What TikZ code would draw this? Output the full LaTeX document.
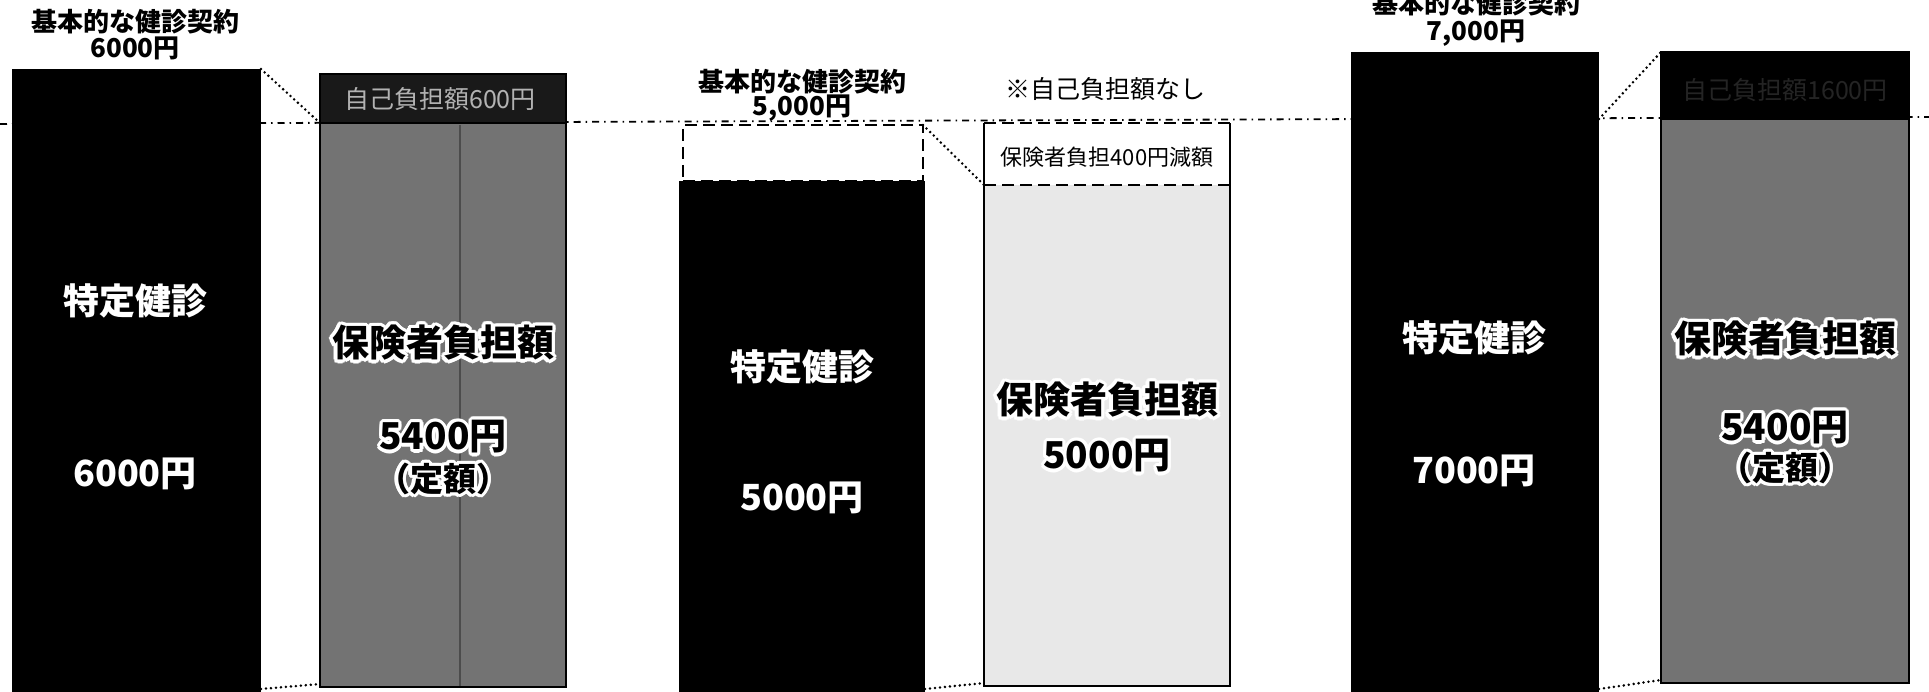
\documentclass[tikz,border=0pt]{standalone}
\usepackage{fontspec}
\setmainfont{Noto Sans CJK JP}
\newfontfamily\jp{Noto Sans CJK JP}
\newcommand\halonode[4]{%
 \foreach \hx/\hy in {3.2/0,-3.2/0,0/3.2,0/-3.2,2.3/2.3,-2.3/2.3,2.3/-2.3,-2.3/-2.3,3/1.2,-3/1.2,3/-1.2,-3/-1.2,1.2/3,-1.2/3,1.2/-3,-1.2/-3}
   {\node[#2, text=white, xshift=\hx pt, yshift=\hy pt] at (#3) {#4};}%
 \node[#2] (#1) at (#3) {#4};}
\tikzset{
  bar/.style={rectangle, inner sep=0pt, outer sep=0pt},
  blackbar/.style={bar, fill=black},
  greybar/.style={bar, fill=black!55, draw=black, line width=1.5pt},
  dotconn/.style={line width=2.8pt, dash pattern=on 0pt off 5pt, line cap=round},
  guide/.style={line width=1.8pt, dash pattern=on 7pt off 5pt on 1.5pt off 5pt},
  dashline/.style={line width=2.2pt, dash pattern=on 12pt off 6pt},
  frameline/.style={line width=1.5pt},
  titletext/.style={font=\jp\bfseries\fontsize{26}{30}\selectfont, inner sep=0pt},
  bartext/.style={text=white, font=\jp\bfseries\fontsize{36}{40}\selectfont, inner sep=0pt},
  halotext/.style={font=\jp\bfseries\fontsize{37}{40}\selectfont, inner sep=0pt},
  parentext/.style={font=\jp\bfseries\fontsize{33}{36}\selectfont, inner sep=0pt},
  notetext/.style={font=\jp\fontsize{25}{28}\selectfont, inner sep=0pt},
}
\begin{document}
\begin{tikzpicture}[x=1pt,y=-1pt]
\useasboundingbox (0,0) rectangle (1929,692);
\fill[white] (0,0) rectangle (1929,692);
% guide line
\coordinate (gl) at (0,124);
\coordinate (gr) at (1929,117);
\draw[guide] (gl) -- (gr);

% ---------- Panel 1 ----------
\node[titletext] (t1a) at (135,22) {基本的な健診契約};
\node[titletext] (t1b) at (135,48) {6000円};
\node[blackbar, minimum width=249pt, minimum height=623pt] (b1) at (136.5,380.5) {};
\node[bartext] (b1t) at (135,301) {特定健診};
\node[bartext] (b1n) at (135,474) {6000円};
\node[bar, fill=black!90, draw=black, line width=1.5pt, minimum width=246pt, minimum height=49pt] (h1) at (443,98.5) {};
\node[text=white!70!black, font=\jp\fontsize{25}{28}\selectfont, inner sep=0pt] (h1t) at (440,99) {自己負担額600円};
\node[greybar, minimum width=246pt, minimum height=564pt] (m1) at (443,405) {};
\draw[black!70, line width=2.5pt] (460,125) -- (460,686);
\halonode{m1a}{halotext}{443,343}{保険者負担額}
\halonode{m1b}{halotext}{443,437}{5400円}
\halonode{m1c}{parentext}{443,479}{（定額）}
\draw[dotconn] (b1.north east) -- (h1.south west);
\draw[dotconn] ([yshift=3pt]b1.south east) -- ([yshift=3pt]m1.south west);

% ---------- Panel 2 ----------
\node[titletext] (t2a) at (802,82) {基本的な健診契約};
\node[titletext] (t2b) at (802,108) {5,000円};
\node[bar, draw=black, dashline, minimum width=240pt, minimum height=56pt] (d2) at (803,153) {};
\node[blackbar, minimum width=246pt, minimum height=511pt] (b2) at (802,436.5) {};
\node[bartext] (b2t) at (802,367) {特定健診};
\node[bartext] (b2n) at (802,498) {5000円};
\node[notetext] (n2) at (1105,89) {※自己負担額なし};
\node[bar, fill=white, minimum width=246pt, minimum height=62pt] (r2) at (1107,154) {};
\node[bar, fill=black!9, minimum width=246pt, minimum height=501pt] (m2) at (1107,435.5) {};
\node[font=\jp\fontsize{22}{26}\selectfont, inner sep=0pt] (r2t) at (1107,157) {保険者負担400円減額};
\draw[frameline] (r2.north west) -- (m2.south west) -- (m2.south east) -- (r2.north east);
\draw[dashline] (r2.north west) -- (r2.north east);
\draw[dashline] (r2.south west) -- (r2.south east);
\halonode{m2a}{halotext}{1107,400}{保険者負担額}
\halonode{m2b}{halotext}{1107,456}{5000円}
\draw[dotconn] (d2.north east) -- (r2.south west);
\draw[dotconn] ([yshift=3pt]b2.south east) -- ([yshift=3pt]m2.south west);

% ---------- Panel 3 ----------
\node[titletext] (t3a) at (1476,4) {基本的な健診契約};
\node[titletext] (t3b) at (1476,33) {7,000円};
\node[blackbar, minimum width=248pt, minimum height=640pt] (b3) at (1475,372) {};
\node[bartext] (b3t) at (1474,338) {特定健診};
\node[bartext] (b3n) at (1474,471) {7000円};
\node[bar, fill=black, draw=black, line width=1.5pt, minimum width=248pt, minimum height=67pt] (h3) at (1785,85.5) {};
\node[text=white!14!black, font=\jp\fontsize{25}{28}\selectfont, inner sep=0pt] (h3t) at (1785,90) {自己負担額1600円};
\node[greybar, minimum width=248pt, minimum height=564pt] (m3) at (1785,401) {};
\halonode{m3a}{halotext}{1785,339}{保険者負担額}
\halonode{m3b}{halotext}{1785,428}{5400円}
\halonode{m3c}{parentext}{1785,468}{（定額）}
\coordinate (c3) at (b3.east |- h3.south west);
\draw[dotconn] (c3) -- (h3.north west);
\draw[dotconn] ([yshift=3pt]b3.south east) -- ([yshift=3pt]m3.south west);
\end{tikzpicture}
\end{document}
